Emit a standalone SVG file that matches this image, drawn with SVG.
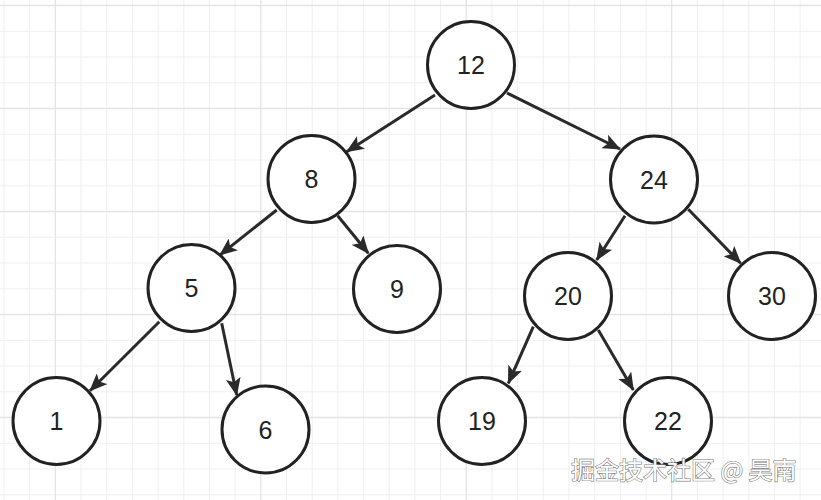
<svg xmlns="http://www.w3.org/2000/svg" width="821" height="500" viewBox="0 0 821 500">
<defs>
<style>
.g{stroke:#efefef;stroke-width:1}
.gm{stroke:#e4e4e4;stroke-width:1.3}
.n circle{fill:#fff;stroke:#222;stroke-width:3}
.n text{font-family:"Liberation Sans",Arial,sans-serif;font-size:25px;fill:#222;text-anchor:middle}
.e line{stroke:#2a2a2a;stroke-width:3;marker-end:url(#ah)}
.wm{font-family:"Noto Sans CJK SC","Liberation Sans",sans-serif;font-size:24px;fill:#fff;stroke:#7a7a7a;stroke-width:1.2;paint-order:stroke}
</style>
<marker id="ah" viewBox="0 0 18 15" markerWidth="18" markerHeight="15" markerUnits="userSpaceOnUse" refX="17" refY="7.5" orient="auto">
<path d="M0,0 L18,7.5 L0,15 L4,7.5 Z" fill="#2a2a2a"/>
</marker>
</defs>
<rect width="821" height="500" fill="#fff"/>
<g id="grid">
<g class="g">
<line x1="29.7" y1="0" x2="29.7" y2="500"/><line x1="81" y1="0" x2="81" y2="500"/><line x1="106.7" y1="0" x2="106.7" y2="500"/><line x1="132.4" y1="0" x2="132.4" y2="500"/><line x1="183.8" y1="0" x2="183.8" y2="500"/><line x1="209.4" y1="0" x2="209.4" y2="500"/><line x1="235.1" y1="0" x2="235.1" y2="500"/><line x1="286.5" y1="0" x2="286.5" y2="500"/><line x1="312.2" y1="0" x2="312.2" y2="500"/><line x1="337.8" y1="0" x2="337.8" y2="500"/><line x1="389.2" y1="0" x2="389.2" y2="500"/><line x1="414.9" y1="0" x2="414.9" y2="500"/><line x1="440.6" y1="0" x2="440.6" y2="500"/><line x1="491.9" y1="0" x2="491.9" y2="500"/><line x1="517.6" y1="0" x2="517.6" y2="500"/><line x1="543.3" y1="0" x2="543.3" y2="500"/><line x1="594.7" y1="0" x2="594.7" y2="500"/><line x1="620.4" y1="0" x2="620.4" y2="500"/><line x1="646" y1="0" x2="646" y2="500"/><line x1="697.4" y1="0" x2="697.4" y2="500"/><line x1="723.1" y1="0" x2="723.1" y2="500"/><line x1="748.8" y1="0" x2="748.8" y2="500"/><line x1="800.1" y1="0" x2="800.1" y2="500"/>
<line x1="4" y1="0" x2="4" y2="500"/><line x1="158.1" y1="0" x2="158.1" y2="500"/><line x1="363.5" y1="0" x2="363.5" y2="500"/><line x1="568.9" y1="0" x2="568.9" y2="500"/><line x1="774.4" y1="0" x2="774.4" y2="500"/>
<line x1="0" y1="31.3" x2="821" y2="31.3"/><line x1="0" y1="57" x2="821" y2="57"/><line x1="0" y1="82.8" x2="821" y2="82.8"/><line x1="0" y1="134.3" x2="821" y2="134.3"/><line x1="0" y1="160" x2="821" y2="160"/><line x1="0" y1="185.8" x2="821" y2="185.8"/><line x1="0" y1="237.3" x2="821" y2="237.3"/><line x1="0" y1="263" x2="821" y2="263"/><line x1="0" y1="288.8" x2="821" y2="288.8"/><line x1="0" y1="340.3" x2="821" y2="340.3"/><line x1="0" y1="366" x2="821" y2="366"/><line x1="0" y1="391.8" x2="821" y2="391.8"/><line x1="0" y1="443.3" x2="821" y2="443.3"/><line x1="0" y1="469" x2="821" y2="469"/><line x1="0" y1="494.8" x2="821" y2="494.8"/>
</g>
<g class="gm">
<line x1="55.4" y1="0" x2="55.4" y2="500"/><line x1="260.8" y1="0" x2="260.8" y2="500"/><line x1="466.2" y1="0" x2="466.2" y2="500"/><line x1="671.7" y1="0" x2="671.7" y2="500"/>
<line x1="0" y1="5.5" x2="821" y2="5.5"/><line x1="0" y1="108.5" x2="821" y2="108.5"/><line x1="0" y1="211.5" x2="821" y2="211.5"/><line x1="0" y1="314.5" x2="821" y2="314.5"/><line x1="0" y1="417.5" x2="821" y2="417.5"/>
</g>
</g>
<g id="edges" class="e">
<line x1="435" y1="95" x2="346.7" y2="151.7"/>
<line x1="507" y1="93" x2="620" y2="149"/>
<line x1="276.7" y1="210" x2="220" y2="255"/>
<line x1="337.7" y1="215.7" x2="368.3" y2="253.3"/>
<line x1="625" y1="215.7" x2="596.7" y2="260"/>
<line x1="688.3" y1="209.3" x2="740.7" y2="263.3"/>
<line x1="159.3" y1="321.7" x2="90" y2="390.7"/>
<line x1="221.7" y1="323.3" x2="236.7" y2="395"/>
<line x1="533.3" y1="326.7" x2="508.3" y2="383.3"/>
<line x1="598.3" y1="330" x2="633.3" y2="390"/>
</g>
<g id="n12" class="n"><circle cx="471" cy="65" r="43.5"/><text x="471" y="74">12</text></g>
<g id="n8" class="n"><circle cx="311.5" cy="179" r="43.5"/><text x="311.5" y="188">8</text></g>
<g id="n24" class="n"><circle cx="654" cy="179.5" r="43.5"/><text x="654" y="188.5">24</text></g>
<g id="n5" class="n"><circle cx="191.5" cy="288" r="43.5"/><text x="191.5" y="297">5</text></g>
<g id="n9" class="n"><circle cx="397" cy="289" r="43.5"/><text x="397" y="298">9</text></g>
<g id="n20" class="n"><circle cx="568" cy="296" r="43.5"/><text x="568" y="305">20</text></g>
<g id="n30" class="n"><circle cx="772" cy="296" r="43.5"/><text x="772" y="305">30</text></g>
<g id="n1" class="n"><circle cx="56.5" cy="421" r="43.5"/><text x="56.5" y="430">1</text></g>
<g id="n6" class="n"><circle cx="265.5" cy="429.5" r="43.5"/><text x="265.5" y="438.5">6</text></g>
<g id="n19" class="n"><circle cx="482" cy="421" r="43.5"/><text x="482" y="430">19</text></g>
<g id="n22" class="n"><circle cx="668" cy="421" r="43.5"/><text x="668" y="430">22</text></g>
<text class="wm" x="571" y="479">掘金技术社区 @ 昊南</text>
</svg>
